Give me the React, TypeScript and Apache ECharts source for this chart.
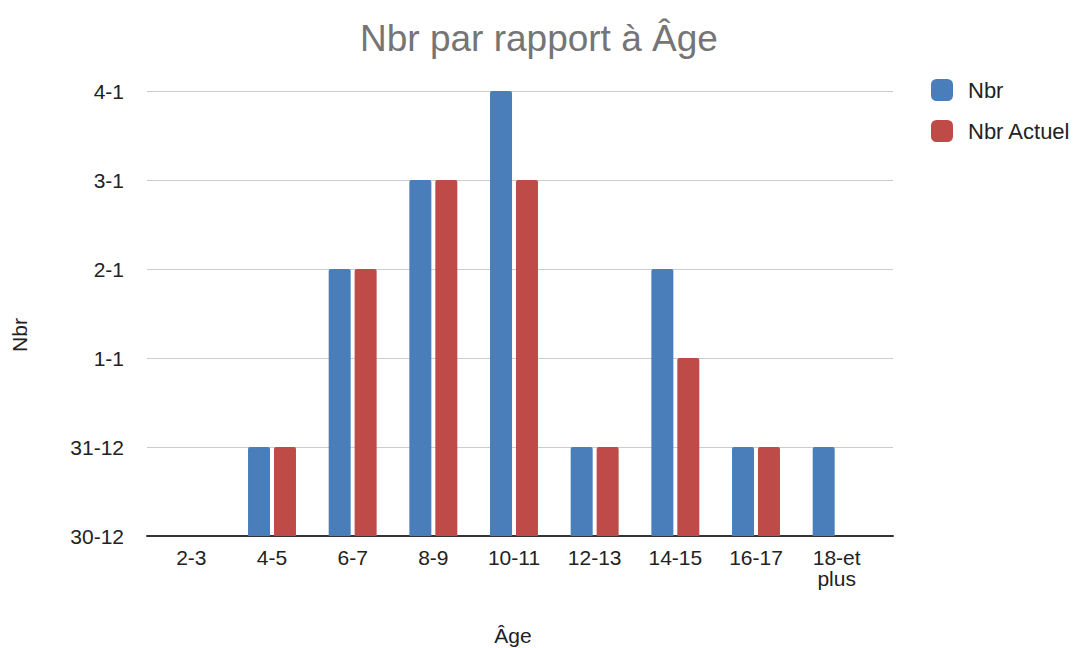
import React, { useEffect, useRef } from "react";
import * as echarts from "echarts";

const categories = ["2-3", "4-5", "6-7", "8-9", "10-11", "12-13", "14-15", "16-17", "18-et plus"];
const nbr = [0, 1, 3, 4, 5, 1, 3, 1, 1];
const nbrActuel = [0, 1, 3, 4, 4, 1, 2, 1, 0];
const yTickLabels = ["30-12", "31-12", "1-1", "2-1", "3-1", "4-1"];

export default function App() {
  const ref = useRef<HTMLDivElement>(null);
  useEffect(() => {
    if (!ref.current) return;
    const chart = echarts.init(ref.current, null, { renderer: "svg" });
    const font = "Arial, 'Liberation Sans', sans-serif";
    chart.setOption({
      animation: false,
      backgroundColor: "#ffffff",
      title: {
        text: "Nbr par rapport à Âge",
        left: 355,
        top: 15,
        textStyle: { fontFamily: font, fontSize: 37, fontWeight: "normal", color: "#757575" },
      },
      legend: {
        orient: "vertical",
        left: 931,
        top: 79,
        padding: 0,
        itemWidth: 22,
        itemHeight: 22,
        itemGap: 19,
        icon: "roundRect",
        textStyle: { fontFamily: font, fontSize: 22, color: "#222", padding: [0, 0, 0, 10] },
        data: ["Nbr", "Nbr Actuel"],
      },
      grid: [
        { left: 147, right: 182, top: 91, bottom: 112, containLabel: false },
        { left: 151, right: 198, top: 91, bottom: 112, containLabel: false },
      ],
      xAxis: [
        {
          type: "category",
          gridIndex: 0,
          data: categories,
          axisLine: { lineStyle: { color: "#333", width: 2 } },
          axisTick: { show: false },
          axisLabel: { show: false },
        },
        {
          type: "category",
          gridIndex: 1,
          data: categories,
          axisLine: { show: false },
          axisTick: { show: false },
          axisLabel: {
            fontFamily: font,
            fontSize: 21,
            color: "#222",
            margin: 11,
            lineHeight: 21,
            formatter: (v: string) => v.replace(" ", "\n"),
          },
        },
      ],
      yAxis: [
        {
          type: "value",
          gridIndex: 0,
          min: 0,
          max: 5,
          interval: 1,
          axisLine: { show: false },
          axisTick: { show: false },
          splitLine: { lineStyle: { color: "#cccccc", width: 1 } },
          axisLabel: {
            fontFamily: font,
            fontSize: 21,
            color: "#222",
            margin: 23,
            formatter: (v: number) => yTickLabels[Math.round(v)] ?? "",
          },
        },
        {
          type: "value",
          gridIndex: 1,
          min: 0,
          max: 5,
          interval: 1,
          show: false,
          splitLine: { show: false },
        },
      ],
      graphic: [
        {
          type: "text",
          x: 19,
          y: 335,
          rotation: Math.PI / 2,
          style: {
            text: "Nbr",
            font: `21px ${font}`,
            fill: "#222",
            align: "center",
            verticalAlign: "middle",
          },
        },
        {
          type: "text",
          x: 513,
          y: 635,
          style: {
            text: "Âge",
            font: `21px ${font}`,
            fill: "#222",
            align: "center",
            verticalAlign: "middle",
          },
        },
      ],
      series: [
        {
          name: "Nbr",
          type: "bar",
          xAxisIndex: 1,
          yAxisIndex: 1,
          data: nbr,
          barWidth: 22,
          barGap: "18%",
          itemStyle: { color: "#4a7ebb", borderRadius: [2, 2, 0, 0] },
        },
        {
          name: "Nbr Actuel",
          type: "bar",
          xAxisIndex: 1,
          yAxisIndex: 1,
          data: nbrActuel,
          barWidth: 22,
          itemStyle: { color: "#be4b48", borderRadius: [2, 2, 0, 0] },
        },
      ],
    });
    return () => chart.dispose();
  }, []);
  return (
    <div
      ref={ref}
      style={{ position: "fixed", left: 0, top: 0, width: 1075, height: 648 }}
    />
  );
}
